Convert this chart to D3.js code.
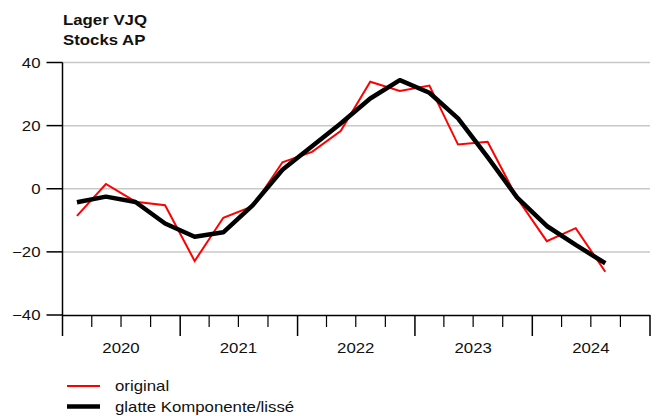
<!DOCTYPE html>
<html><head><meta charset="utf-8">
<script src="https://cdn.jsdelivr.net/npm/d3@7"></script>
<style>body{margin:0;background:#fff}svg{display:block}text{font-family:"Liberation Sans",Arial,sans-serif}</style>
</head><body><svg id="c" width="657" height="416"></svg>
<script>
const quarters = ["2020Q1","2020Q2","2020Q3","2020Q4","2021Q1","2021Q2","2021Q3","2021Q4","2022Q1","2022Q2","2022Q3","2022Q4","2023Q1","2023Q2","2023Q3","2023Q4","2024Q1","2024Q2","2024Q3"];
const original = [-8.6,1.5,-4.1,-5.2,-22.9,-9.2,-5.5,8.4,11.7,18.3,33.9,31.0,32.7,14.0,14.9,-3.0,-16.6,-12.5,-26.3];
const smooth = [-4.3,-2.5,-4.2,-11.0,-15.2,-13.8,-5.2,6.0,13.5,20.7,28.6,34.4,30.4,22.3,10.0,-2.8,-11.8,-17.8,-23.6];
const yTicks = [-40,-20,0,20,40];
const years = [2020,2021,2022,2023,2024];
const titleLines = ["Lager VJQ","Stocks AP"];
const legendLabels = ["original","glatte Komponente/lissé"];

const svg = d3.select("#c");
const SX = 1.2;
function txt(g, x, y, s, opts) {
  const t = g.append("text").attr("transform", `translate(${x},${y}) scale(${SX},1)`).text(s);
  if (opts) Object.entries(opts).forEach(([k,v]) => t.attr(k,v));
  return t;
}
const qDate = q => { const y=+q.slice(0,4), k=+q.slice(5); return new Date(y, (k-1)*3 + 1, 15); };
const x = d3.scaleTime().domain([new Date(2020,0,1), new Date(2025,0,1)]).range([62.5, 650]);
const y = d3.scaleLinear().domain([-40,40]).range([315,62.5]);

// grid
svg.append("g").selectAll("line").data(yTicks.filter(d=>d>-40)).join("line")
  .attr("x1",62.5).attr("x2",650).attr("y1",d=>y(d)).attr("y2",d=>y(d))
  .attr("stroke","#c8c8c8").attr("stroke-width",1.5);

// y axis
const ya = svg.append("g");
ya.append("line").attr("x1",62.5).attr("x2",62.5).attr("y1",y(40)).attr("y2",y(-40)).attr("stroke","#000").attr("stroke-width",1.5);
ya.selectAll("line.t").data(yTicks).join("line").attr("class","t")
  .attr("x1",46.5).attr("x2",62.5).attr("y1",d=>y(d)).attr("y2",d=>y(d)).attr("stroke","#000").attr("stroke-width",1.5);
yTicks.forEach(d => txt(ya, 40.5, y(d)+5, d<0 ? "\u2212"+Math.abs(d) : String(d), {"text-anchor":"end","font-size":"14px","fill":"#111"}));

// x axis
const xa = svg.append("g");
xa.append("line").attr("x1",62.5).attr("x2",650).attr("y1",315.5).attr("y2",315.5).attr("stroke","#000").attr("stroke-width",1.5);
const majors = d3.timeYear.range(new Date(2020,0,1), new Date(2025,0,2));
const minors = d3.timeMonth.every(3).range(new Date(2020,0,1), new Date(2025,0,1)).filter(d=>d.getMonth()!==0);
xa.selectAll("line.M").data(majors).join("line").attr("class","M")
  .attr("x1",d=>x(d)).attr("x2",d=>x(d)).attr("y1",315).attr("y2",336).attr("stroke","#000").attr("stroke-width",1.5);
xa.selectAll("line.m").data(minors).join("line").attr("class","m")
  .attr("x1",d=>x(d)).attr("x2",d=>x(d)).attr("y1",315).attr("y2",327).attr("stroke","#000").attr("stroke-width",1.2);
years.forEach(yr => txt(xa, x(new Date(yr,6,1)), 353, String(yr), {"text-anchor":"middle","font-size":"14px","fill":"#111"}));

// lines
const line = d3.line().x((d,i)=>x(qDate(quarters[i]))).y(d=>y(d));
svg.append("path").attr("d", line(original)).attr("fill","none").attr("stroke","#ff0000").attr("stroke-width",2).attr("stroke-linejoin","miter");
svg.append("path").attr("d", line(smooth)).attr("fill","none").attr("stroke","#000").attr("stroke-width",4.5).attr("stroke-linejoin","round");

// title
titleLines.forEach((s,i) => txt(svg, 63, 25 + i*20, s, {"font-size":"14px","font-weight":"bold","fill":"#111"}));

// legend
const lg = svg.append("g");
const lc = [{c:"#ff0000",w:2},{c:"#000",w:4.5}];
legendLabels.forEach((s,i) => {
  const yy = 386 + i*20.5;
  lg.append("line").attr("x1",67).attr("x2",100).attr("y1",yy).attr("y2",yy).attr("stroke",lc[i].c).attr("stroke-width",lc[i].w);
  txt(lg, 115, yy+5, s, {"font-size":"14px","fill":"#111"});
});
</script></body></html>
